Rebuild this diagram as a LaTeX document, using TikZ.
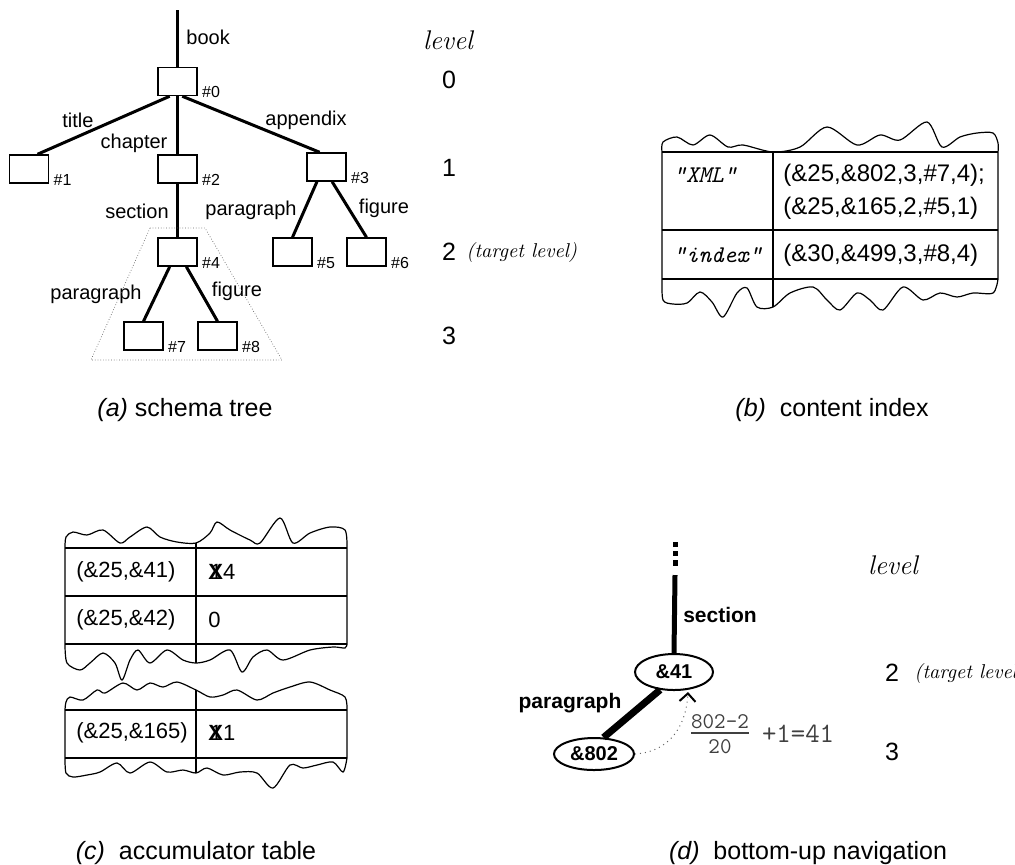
\documentclass[tikz,border=0pt]{standalone}
\usepackage{amsmath}
\usepackage{fontspec}
\newfontfamily\sans{Liberation Sans}
\usepackage{tikz}
\usetikzlibrary{arrows.meta}
\usetikzlibrary{positioning,shapes.geometric}

\newcommand{\redone}[1]{\makebox[0pt][l]{\hspace{.8pt}#1}{\bfseries X}}

\tikzset{
  sbox/.style={draw, line width=.75pt, minimum width=19.5pt, minimum height=14pt, inner sep=0pt},
  tedge/.style={line width=1.5pt},
  lbl/.style={font=\sans\fontsize{10}{12}\selectfont, inner sep=0pt},
  hnum/.style={font=\sans\fontsize{8}{9}\selectfont, inner sep=0pt, anchor=south west, xshift=2pt, yshift=-1pt},
  lvl/.style={font=\sans\fontsize{12.5}{15}\selectfont, inner sep=0pt},
  lvlhead/.style={font=\itshape\fontsize{13.5}{16}\selectfont, inner sep=0pt},
  tgt/.style={font=\itshape\fontsize{10}{12}\selectfont, inner sep=0pt, anchor=west},
  targetarea/.style={densely dotted, line width=.35pt, black!60},
  tbl/.style={line width=.6pt},
  cell/.style={font=\sans\fontsize{12}{14}\selectfont, inner sep=0pt, anchor=west},
  keytxt/.style={font=\ttfamily\itshape\fontsize{12}{14}\selectfont, inner sep=0pt, anchor=west},
  acc/.style={font=\sans\fontsize{11}{13}\selectfont, inner sep=0pt, anchor=west},
  ell/.style={ellipse, draw, line width=1pt, inner sep=0pt, font=\sans\bfseries\fontsize{10}{12}\selectfont},
  blbl/.style={font=\sans\bfseries\fontsize{10.5}{12}\selectfont, inner sep=0pt},
  frm/.style={font=\ttfamily\fontsize{14}{17}\selectfont, inner sep=0pt, black!75},
  captxt/.style={font=\sans\fontsize{12.5}{15}\selectfont, inner sep=0pt}
}

\begin{document}
\begin{tikzpicture}[x=0.5pt, y=-0.5pt]
\useasboundingbox (0,0) rectangle (1015,864);

% (a) schema tree
\foreach \i/\x/\y in {0/177.5/81.5, 1/29/169, 2/177.5/169, 3/326.5/167, 4/177.5/252,
                      5/292.5/252, 6/366.5/252, 7/143.5/336, 8/217.5/336}
  \node[sbox] (n\i) at (\x,\y) {};
\foreach \i in {0,...,8} \node[hnum] (h\i) at (n\i.south east) {\#\i};
\coordinate (root) at (177.5,10);
\draw[tedge] (root) -- (n0.north);
\draw[tedge] (n0.-118) -- (n1.60);
\draw[tedge] (n0.south) -- (n2.north);
\draw[tedge] (n0.-72) -- (n3.115);
\draw[tedge] (n2.south) -- (n4.north);
\draw[tedge] (n3.-123) -- (n5.north);
\draw[tedge] (n3.-69) -- (n6.north);
\draw[tedge] (n4.-118) -- (n7.north);
\draw[tedge] (n4.-59) -- (n8.north);
\node[lbl, anchor=west] (lbook) at (186,37) {book};
\node[lbl] (ltitle) at (78,120) {title};
\node[lbl] (lchap) at (134,143) {chapter};
\node[lbl] (lapp) at (306,120) {appendix};
\node[lbl] (lsec) at (137,211) {section};
\node[lbl] (lpar) at (251,210) {paragraph};
\node[lbl] (lfig) at (384,208) {figure};
\node[lbl] (lpar2) at (96,294) {paragraph};
\node[lbl] (lfig2) at (237,291) {figure};
\draw[targetarea] (150,228) -- (205,228) -- (282,360) -- (91,360) -- cycle;

\node[lvlhead] (levela) at (448,40) {level};
\foreach \l/\y in {0/80,1/168,2/252,3/336}
  \node[lvl] (la\l) at (449,\y) {\l};
\node[tgt] (tga) at (466,252) {(target level)};

% (b) content index
\draw[tbl] plot[smooth] coordinates {(662,152) (663,142) (677,137) (693,145) (710,135) (728,147)
    (743,145) (773,152) (800,147) (827,127) (857,145) (880,135) (900,140) (927,122) (942,147)
    (960,137) (977,133) (993,133) (998,143) (998,152)}
  -- plot[smooth] coordinates {(998,279) (993,293) (973,293) (957,297) (940,293) (923,300)
    (903,287) (883,310) (870,300) (857,293) (840,310) (827,300) (813,287) (790,293) (773,307)
    (757,307) (747,288) (737,293) (723,317) (712,302) (700,292) (687,303) (673,304) (663,300)
    (662,279)} -- cycle;
\foreach \y in {152,230,279} \draw[tbl] (662,\y) -- (998,\y);
\coordinate (bdt) at (773,152);
\coordinate (bdb) at (773,307);
\draw[tbl] (bdt) -- (bdb);
\node[keytxt] (kxml) at (673,175) {"XML"};
\node[keytxt] (kidx) at (673,255) {"index"};
\node[cell] (vxa) at (783,175) {(\&25,\&802,3,\#7,4);};
\node[cell] (vxb) at (783,208) {(\&25,\&165,2,\#5,1)};
\node[cell] (vix) at (783,255) {(\&30,\&499,3,\#8,4)};

% (c) accumulator table
\draw[tbl] plot[smooth] coordinates {(65,548) (66,537) (73,532) (87,535) (103,530) (120,543)
    (130,537) (147,527) (160,537) (177,542) (196,543) (210,533) (217,522) (230,530) (250,540)
    (260,543) (280,518) (293,543) (310,533) (330,527) (345,530) (347,548)}
  -- plot[smooth] coordinates {(347,644) (345,648) (333,647) (310,650) (283,660) (267,650)
    (253,657) (242,672) (230,650) (210,660) (196,663) (183,660) (167,650) (150,663) (138,650)
    (130,660) (122,680) (115,663) (103,653) (90,663) (80,670) (67,663) (65,644)} -- cycle;
\foreach \y in {548,596,644} \draw[tbl] (65,\y) -- (347,\y);
\coordinate (cdt) at (196,543);
\coordinate (cdb) at (196,663);
\draw[tbl] (cdt) -- (cdb);
\draw[tbl] plot[smooth] coordinates {(65,710) (66,702) (70,697) (83,700) (97,690) (105,693)
    (123,683) (137,690) (150,683) (163,687) (177,682) (196,690) (210,697) (223,695) (237,690)
    (257,700) (273,693) (290,687) (310,682) (330,690) (345,697) (347,710)}
  -- plot[smooth] coordinates {(347,758) (343,772) (333,762) (317,765) (303,768) (290,765)
    (273,788) (257,773) (240,772) (223,775) (207,768) (196,773) (183,770) (167,772) (150,762)
    (130,773) (117,763) (100,772) (87,775) (73,777) (66,773) (65,758)} -- cycle;
\foreach \y in {710,758} \draw[tbl] (65,\y) -- (347,\y);
\coordinate (cdt2) at (196,690);
\coordinate (cdb2) at (196,773);
\draw[tbl] (cdt2) -- (cdb2);
\node[acc] (ka) at (76,572) {(\&25,\&41)};
\node[acc] (kb) at (76,620) {(\&25,\&42)};
\node[acc] (kc) at (76,733) {(\&25,\&165)};
\node[acc] (va) at (208,572) {\redone{1}4};
\node[acc] (vb) at (208,620) {0};
\node[acc] (vc) at (208,733) {\redone{1}1};

% (d) bottom-up navigation
\node[ell, minimum width=39pt, minimum height=18pt] (e41) at (674,672) {\&41};
\node[ell, minimum width=40pt, minimum height=16pt] (e802) at (594,754) {\&802};
\coordinate (stop) at (675,542);
\coordinate (smid) at (675,568);
\coordinate (sbot) at (675,575);
\draw[line width=2.5pt, dash pattern=on 2.6pt off 2pt] (stop) -- (smid);
\draw[line width=2.5pt] (sbot) -- (e41.north);
\draw[line width=3.5pt] (e41.-128) -- (e802.60);
\node[blbl] (dsec) at (720,615) {section};
\node[blbl] (dpar) at (570,703) {paragraph};
\coordinate (tip) at (688,692);
\draw[dotted, line width=.5pt, black!60, -{Straight Barb[length=4pt, width=8pt, line width=1pt, black]}]
  (e802.east) .. controls (668,752) and (686,728) .. (tip);
\node[frm, font=\ttfamily\fontsize{16}{19}\selectfont] (frac) at (720,734) {$\frac{\texttt{802-2}}{\texttt{20}}$};
\node[frm, right=5pt of frac] (res) {+1=41};

\node[lvlhead] (leveld) at (893,565) {level};
\node[lvl] (ld2) at (892,673) {2};
\node[tgt] (tgd) at (914,673) {(target level)};
\node[lvl] (ld3) at (892,752) {3};

% captions
\node[captxt] (capa) at (185,410) {\textit{(a)} schema tree};
\node[captxt] (capb) at (832,410) {\textit{(b)}\ \ content index};
\node[captxt] (capc) at (196,853) {\textit{(c)}\ \ accumulator table};
\node[captxt] (capd) at (808,853) {\textit{(d)}\ \ bottom-up navigation};
\end{tikzpicture}
\end{document}
